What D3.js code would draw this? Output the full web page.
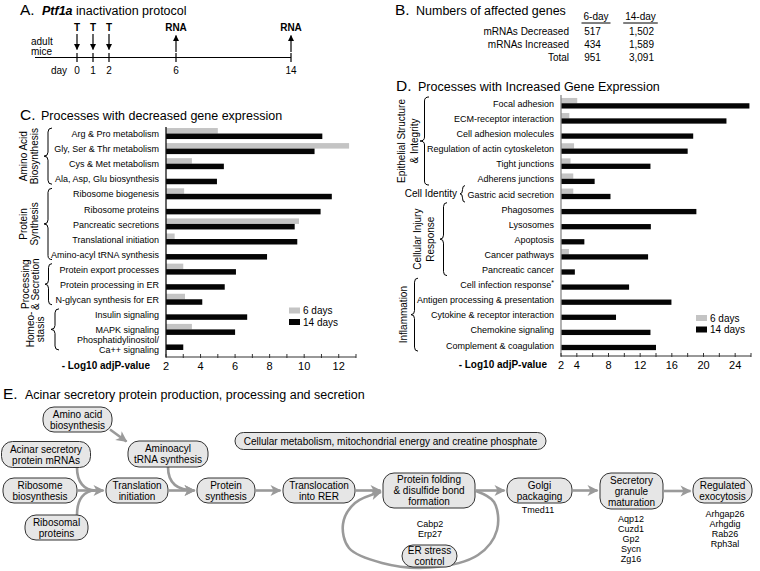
<!DOCTYPE html>
<html><head><meta charset="utf-8">
<script src="https://cdn.jsdelivr.net/npm/d3@7"></script>
<style>
body{margin:0;background:#fff}
svg{display:block;font-family:"Liberation Sans",Arial,Helvetica,sans-serif}
</style>
</head><body>
<svg id="chart" width="760" height="571"></svg>
<script>
// ---------- DATA ----------
// Panel A
const protocolDays = [0, 1, 2, 6, 14];
const treatmentDays = [0, 1, 2];
const rnaDays = [6, 14];
// Panel B
const tableRows = ["mRNAs Decreased", "mRNAs Increased", "Total"];
const tableCols = ["6-day", "14-day"];
const day6Counts = ["517", "434", "951"];
const day14Counts = ["1,502", "1,589", "3,091"];
// Panel C
const decCategories = ["Arg & Pro metabolism", "Gly, Ser & Thr metabolism", "Cys & Met metabolism",
  "Ala, Asp, Glu biosynthesis", "Ribosome biogenesis", "Ribosome proteins", "Pancreatic secretions",
  "Translational initiation", "Amino-acyl tRNA synthesis", "Protein export processes",
  "Protein processing in ER", "N-glycan synthesis for ER", "Insulin signaling", "MAPK signaling",
  "Phosphatidylinositol/\nCa++ signaling"];
const dec6days = [5.0, 12.6, 3.5, null, 3.05, null, 9.7, 2.5, null, 3.0, null, 3.1, null, 3.5, null];
const dec14days = [11.05, 10.6, 5.35, 4.95, 11.6, 10.95, 9.45, 9.6, 7.85, 6.05, 5.4, 4.1, 6.7, 6.0, 3.0];
const decTickLabels = [2, 4, 6, 8, 10, 12];
const decTickMarks = [2, 3, 4, 5, 6, 7, 8, 9, 10, 11, 12, 13];
const decGroups = [
  {lines: ["Amino Acid", "Biosynthesis"], first: 0, last: 3},
  {lines: ["Protein", "Synthesis"], first: 4, last: 8},
  {lines: ["Processing", "& Secretion"], first: 9, last: 11},
  {lines: ["Homeo-", "stasis"], first: 12, last: 14}
];
// Panel D
const incCategories = ["Focal adhesion", "ECM-receptor interaction", "Cell adhesion molecules",
  "Regulation of actin cytoskeleton", "Tight junctions", "Adherens junctions", "Gastric acid secretion",
  "Phagosomes", "Lysosomes", "Apoptosis", "Cancer pathways", "Pancreatic cancer",
  "Cell infection response*", "Antigen processing & presentation", "Cytokine & receptor interaction",
  "Chemokine signaling", "Complement & coagulation"];
const inc6days = [4.05, 3.05, null, 3.65, 3.2, 3.55, 3.55, null, null, null, 3.0, null, null, null, null, null, null];
const inc14days = [25.8, 22.9, 18.7, 18.0, 13.3, 6.25, 8.25, 19.1, 13.35, 4.95, 13.0, 3.75, 10.6, 15.95, 8.95, 13.3, 14.0];
const incTickLabels = [2, 4, 8, 12, 16, 20, 24];
const incTickMarks = [2, 4, 6, 8, 10, 12, 14, 16, 18, 20, 22, 24, 26];
const incGroups = [
  {lines: ["Epithelial Structure", "& Integrity"], first: 0, last: 5},
  {lines: ["Cell Identity"], first: 6, last: 6},
  {lines: ["Cellular Injury", "Response"], first: 7, last: 11},
  {lines: ["Inflammation"], first: 12, last: 16}
];
const seriesNames = ["6 days", "14 days"];
// Panel E
const flowNodes = [
  {id: "amino", lines: ["Amino acid", "biosynthesis"]},
  {id: "acinar", lines: ["Acinar secretory", "protein mRNAs"]},
  {id: "aminoacyl", lines: ["Aminoacyl", "tRNA synthesis"]},
  {id: "metab", lines: ["Cellular metabolism, mitochondrial energy and creatine phosphate"]},
  {id: "ribo", lines: ["Ribosome", "biosynthesis"]},
  {id: "transl", lines: ["Translation", "initiation"]},
  {id: "psyn", lines: ["Protein", "synthesis"]},
  {id: "rer", lines: ["Translocation", "into RER"]},
  {id: "riboprot", lines: ["Ribosomal", "proteins"]},
  {id: "fold", lines: ["Protein folding", "& disulfide bond", "formation"]},
  {id: "golgi", lines: ["Golgi", "packaging"]},
  {id: "secr", lines: ["Secretory", "granule", "maturation"]},
  {id: "exo", lines: ["Regulated", "exocytosis"]},
  {id: "er", lines: ["ER stress", "control"]}
];
const chainOrder = ["transl", "psyn", "rer", "fold", "golgi", "secr", "exo"];
const geneLists = [
  {node: "er", genes: ["Cabp2", "Erp27"]},
  {node: "golgi", genes: ["Tmed11"]},
  {node: "secr", genes: ["Aqp12", "Cuzd1", "Gp2", "Sycn", "Zg16"]},
  {node: "exo", genes: ["Arhgap26", "Arhgdig", "Rab26", "Rph3al"]}
];

// ---------- LAYOUT ----------
const nodeLayout = {
  amino: [77.5, 419.5, 69, 25], acinar: [46, 454.5, 89, 26], aminoacyl: [168, 454, 80, 26],
  metab: [390.5, 441, 311, 17], ribo: [40, 490.5, 74, 25], transl: [137, 490.5, 62, 25],
  psyn: [226, 490.5, 58, 25], rer: [319, 490.5, 72, 25], riboprot: [56.5, 527.5, 63, 25],
  fold: [429, 490.5, 92, 35], golgi: [539.5, 490.5, 65, 25], secr: [631.5, 491, 63, 36],
  exo: [722.5, 490.5, 59, 25], er: [429.5, 556, 55, 22]
};
const geneLayout = {er: [430, 526.5], golgi: [538, 513], secr: [631, 521.5], exo: [725, 516.5]};

const GREY = "#c4c4c4", BLACK = "#050505";
const svg = d3.select("#chart");

// markers
const defs = svg.append("defs");
defs.append("marker").attr("id", "garrow").attr("viewBox", "-11 -6 13 12")
  .attr("refX", 0).attr("refY", 0).attr("markerWidth", 13).attr("markerHeight", 12)
  .attr("markerUnits", "userSpaceOnUse").attr("orient", "auto")
  .append("path").attr("d", "M-10,-5.5 L1,0 L-10,5.5 L-7,0 Z").attr("fill", "#9a9a9a");
defs.append("marker").attr("id", "karrow").attr("viewBox", "-6 -4 7 8")
  .attr("refX", 0).attr("refY", 0).attr("markerWidth", 7).attr("markerHeight", 8)
  .attr("markerUnits", "userSpaceOnUse").attr("orient", "auto")
  .append("path").attr("d", "M-5.5,-3 L0.5,0 L-5.5,3 Z").attr("fill", "#000");

function panelTitle(letter, lx, tx, y, parts) {
  svg.append("text").attr("x", lx).attr("y", y).attr("font-size", 15.5).text(letter);
  const t = svg.append("text").attr("x", tx).attr("y", y).attr("font-size", 12.5);
  parts.forEach(p => {
    const s = t.append("tspan").text(p.t);
    if (p.b) s.attr("font-weight", "bold");
    if (p.i) s.attr("font-style", "italic");
  });
}

// ---------- PANEL A ----------
panelTitle("A.", 20, 42, 14.5, [{t: "Ptf1a", b: true, i: true}, {t: " inactivation protocol"}]);
const dayX = d3.scaleLinear().domain([0, 2, 6, 14]).range([77, 109, 176, 291]);
const gA = svg.append("g").attr("font-size", 10);
gA.append("line").attr("x1", 35).attr("x2", dayX(14)).attr("y1", 57.5).attr("y2", 57.5)
  .attr("stroke", "#000").attr("stroke-width", 1.2);
gA.selectAll(".tk").data(protocolDays).join("line")
  .attr("x1", d => dayX(d)).attr("x2", d => dayX(d)).attr("y1", 53).attr("y2", 62)
  .attr("stroke", "#000").attr("stroke-width", 1.2);
gA.selectAll(".dl").data(protocolDays).join("text")
  .attr("x", d => dayX(d)).attr("y", 74).attr("text-anchor", "middle").text(d => d);
gA.append("text").attr("x", 67).attr("y", 74).attr("text-anchor", "end").text("day");
gA.append("text").attr("x", 31).attr("y", 45).text("adult");
gA.append("text").attr("x", 31).attr("y", 54.5).text("mice");
gA.selectAll(".tl").data(treatmentDays).join("text")
  .attr("x", d => dayX(d)).attr("y", 31).attr("text-anchor", "middle")
  .attr("font-weight", "bold").text("T");
gA.selectAll(".ta").data(treatmentDays).join("line")
  .attr("x1", d => dayX(d)).attr("x2", d => dayX(d)).attr("y1", 34).attr("y2", 49.5)
  .attr("stroke", "#000").attr("stroke-width", 1.2).attr("marker-end", "url(#karrow)");
gA.selectAll(".rl").data(rnaDays).join("text")
  .attr("x", d => dayX(d)).attr("y", 31).attr("text-anchor", "middle")
  .attr("font-weight", "bold").text("RNA");
gA.selectAll(".ra").data(rnaDays).join("line")
  .attr("x1", d => dayX(d)).attr("x2", d => dayX(d)).attr("y1", 52).attr("y2", 35.5)
  .attr("stroke", "#000").attr("stroke-width", 1.2).attr("marker-end", "url(#karrow)");

// ---------- PANEL B ----------
panelTitle("B.", 395, 416, 14.5, [{t: "Numbers of affected genes"}]);
const gB = svg.append("g").attr("font-size", 10);
const colCenters = [596, 640.5];
tableCols.forEach((c, i) => {
  const t = gB.append("text").attr("x", colCenters[i]).attr("y", 20).attr("text-anchor", "middle").text(c);
  const w = t.node().getComputedTextLength();
  gB.append("line").attr("x1", colCenters[i] - w / 2 - 2).attr("x2", colCenters[i] + w / 2 + 2)
    .attr("y1", 23).attr("y2", 23).attr("stroke", "#000").attr("stroke-width", 1);
});
const rowY = d3.scalePoint().domain(tableRows).range([35, 60.5]);
gB.selectAll(".rn").data(tableRows).join("text")
  .attr("x", 569).attr("y", d => rowY(d)).attr("text-anchor", "end").text(d => d);
gB.selectAll(".c6").data(day6Counts).join("text")
  .attr("x", 592.5).attr("y", (d, i) => rowY(tableRows[i])).attr("text-anchor", "middle").text(d => d);
gB.selectAll(".c14").data(day14Counts).join("text")
  .attr("x", 654).attr("y", (d, i) => rowY(tableRows[i])).attr("text-anchor", "end").text(d => d);

// ---------- helpers for bar panels ----------
function bracePath(xTip, xEnd, y0, y1) {
  const xm = (xTip + xEnd) / 2, ym = (y0 + y1) / 2, r = Math.min(4, (y1 - y0) / 4);
  return `M${xEnd},${y0} Q${xm},${y0} ${xm},${y0 + r} L${xm},${ym - r} Q${xm},${ym} ${xTip},${ym}` +
    ` Q${xm},${ym} ${xm},${ym + r} L${xm},${y1 - r} Q${xm},${y1} ${xEnd},${y1}`;
}

function barPanel(o) {
  const g = svg.append("g");
  const x = d3.scaleLinear().domain(o.domain).range(o.xRange);
  const y = d3.scaleBand().domain(o.cats).range(o.yRange).paddingInner(o.padI).paddingOuter(o.padI / 2);
  const sub = d3.scaleBand().domain(seriesNames).range([0, y.bandwidth()]);
  const series = [o.v6, o.v14];
  series.forEach((vals, si) => {
    g.selectAll(".b" + si).data(o.cats.map((c, i) => ({c, v: vals[i]})).filter(d => d.v != null))
      .join("rect")
      .attr("x", x(o.domain[0])).attr("y", d => y(d.c) + sub(seriesNames[si]))
      .attr("width", d => x(d.v) - x(o.domain[0])).attr("height", sub.bandwidth())
      .attr("fill", si === 0 ? GREY : BLACK);
  });
  // category labels
  const lab = g.append("g").attr("font-size", 9).attr("text-anchor", "end");
  o.cats.forEach(c => {
    const lines = c.split("\n");
    const cy = y(c) + y.bandwidth() / 2 + 0.5;
    lines.forEach((ln, li) => {
      const yy = cy + (li - (lines.length - 1) / 2) * 10.5;
      const t = lab.append("text").attr("x", o.labelX).attr("y", yy).attr("dy", "0.35em");
      if (ln.endsWith("*")) {
        t.append("tspan").text(ln.slice(0, -1));
        t.append("tspan").attr("font-size", 7).attr("dy", "-0.5em").text("*");
      } else t.text(ln);
    });
  });
  // vertical axis
  g.append("line").attr("x1", x(o.domain[0])).attr("x2", x(o.domain[0]))
    .attr("y1", o.axisTop).attr("y2", o.axisY).attr("stroke", o.vColor).attr("stroke-width", 1.3);
  // horizontal axis
  g.append("line").attr("x1", x(o.domain[0])).attr("x2", x(o.domain[1]))
    .attr("y1", o.axisY).attr("y2", o.axisY).attr("stroke", "#333").attr("stroke-width", 1.2);
  g.selectAll(".tm").data(o.tickMarks).join("line")
    .attr("x1", d => x(d)).attr("x2", d => x(d)).attr("y1", o.axisY - 3).attr("y2", o.axisY + 1)
    .attr("stroke", "#333").attr("stroke-width", 1);
  g.selectAll(".tl").data(o.tickLabels).join("text")
    .attr("x", d => x(d)).attr("y", o.axisY + 12.5).attr("text-anchor", "middle")
    .attr("font-size", 11).text(d => d);
  g.append("text").attr("x", o.axLabelX).attr("y", o.axisY + 12).attr("text-anchor", "end")
    .attr("font-size", 10).attr("font-weight", "bold").text("- Log10 adjP-value");
  // legend
  seriesNames.forEach((s, i) => {
    g.append("rect").attr("x", o.legend[0]).attr("y", o.legend[1] + i * 11.5).attr("width", 11).attr("height", 6)
      .attr("fill", i === 0 ? GREY : BLACK);
    g.append("text").attr("x", o.legend[0] + 14).attr("y", o.legend[1] + i * 11.5 + 3).attr("dy", "0.35em")
      .attr("font-size", 10).text(s);
  });
  // groups
  o.groups.forEach((gr, gi) => {
    const y0 = y(o.cats[gr.first]) - o.braces[gi][2];
    const y1 = y(o.cats[gr.last]) + y.bandwidth() + o.braces[gi][2];
    g.append("path").attr("d", bracePath(o.braces[gi][0], o.braces[gi][1], y0, y1))
      .attr("fill", "none").attr("stroke", "#000").attr("stroke-width", 1);
    const ym = (y0 + y1) / 2;
    const pos = o.groupPos[gi];
    if (pos.horizontal) {
      g.append("text").attr("x", pos.x).attr("y", ym).attr("dy", "0.35em").attr("text-anchor", "end")
        .attr("font-size", 10).text(gr.lines[0]);
    } else {
      gr.lines.forEach((ln, li) => {
        g.append("text").attr("transform", `translate(${pos.xs[li]},${ym}) rotate(-90)`)
          .attr("text-anchor", "middle").attr("dy", "0.35em").attr("font-size", 10).text(ln);
      });
    }
  });
}

// ---------- PANEL C ----------
panelTitle("C.", 20, 41, 120, [{t: "Processes with decreased gene expression"}]);
barPanel({
  cats: decCategories, v6: dec6days, v14: dec14days, domain: [2, 13], xRange: [166, 356],
  yRange: [126, 352], padI: 0.27, labelX: 159, axisTop: 127, axisY: 357, vColor: "#111",
  tickMarks: decTickMarks, tickLabels: decTickLabels, axLabelX: 150, legend: [289, 307.5],
  groups: decGroups,
  braces: [[44, 52, 0], [44, 52, 0], [45, 52, 0], [51, 59, 0]],
  groupPos: [{xs: [23, 34]}, {xs: [23, 34]}, {xs: [25, 35]}, {xs: [30, 40.5]}]
});

// ---------- PANEL D ----------
panelTitle("D.", 396, 418, 91, [{t: "Processes with Increased Gene Expression"}]);
barPanel({
  cats: incCategories, v6: inc6days, v14: inc14days, domain: [2, 26], xRange: [561, 751],
  yRange: [95.7, 352.4], padI: 0.3, labelX: 554, axisTop: 95, axisY: 356, vColor: "#888",
  tickMarks: incTickMarks, tickLabels: incTickLabels, axLabelX: 547, legend: [696, 315],
  groups: incGroups,
  braces: [[420, 429, 1], [460, 465, 3], [440, 447, 1], [411, 418, 1]],
  groupPos: [{xs: [401, 414]}, {horizontal: true, x: 457}, {xs: [417, 430]}, {xs: [403]}]
});

// ---------- PANEL E ----------
panelTitle("E.", 3, 25, 399, [{t: "Acinar secretory protein production, processing and secretion"}]);
const gE = svg.append("g");
const AR = {stroke: "#9a9a9a", w: 2.6};
function arrow(d, head = true) {
  const p = gE.append("path").attr("d", d).attr("fill", "none").attr("stroke", AR.stroke)
    .attr("stroke-width", AR.w);
  if (head) p.attr("marker-end", "url(#garrow)");
}
const L = id => nodeLayout[id];
// chain arrows
for (let i = 0; i < chainOrder.length - 1; i++) {
  const a = L(chainOrder[i]), b = L(chainOrder[i + 1]);
  arrow(`M${a[0] + a[2] / 2 + 1},${a[1]} L${b[0] - b[2] / 2 - 2.5},${a[1]}`);
}
// converging inputs to translation initiation
const tr = L("transl"), tIn = tr[0] - tr[2] / 2 - 2.5;
arrow(`M77,${L("acinar")[1] + L("acinar")[3] / 2} C77,482 84,${tr[1]} ${tIn - 8},${tr[1]}`, false);
arrow(`M77,${L("riboprot")[1] - L("riboprot")[3] / 2} C77,499 84,${tr[1]} ${tIn - 8},${tr[1]}`, false);
arrow(`M${L("ribo")[0] + L("ribo")[2] / 2 + 1},${tr[1]} L${tIn},${tr[1]}`);
// amino acid -> aminoacyl
arrow(`M110,429.5 L126.5,441.5`);
// aminoacyl -> protein synthesis
const ps = L("psyn");
arrow(`M168,${L("aminoacyl")[1] + L("aminoacyl")[3] / 2} C168,482 176,${ps[1]} ${ps[0] - ps[2] / 2 - 2.5},${ps[1]}`);
// ER stress loop
const loopPts = [[476, 491], [494, 502], [497, 530], [478, 555], [430, 567.5], [382, 563], [349, 548],
  [343, 524], [355, 503], [381, 492]];
gE.append("path").attr("d", d3.line().curve(d3.curveCatmullRom.alpha(0.5))(loopPts))
  .attr("fill", "none").attr("stroke", AR.stroke).attr("stroke-width", AR.w)
  .attr("marker-end", "url(#garrow)");
// nodes
flowNodes.forEach(n => {
  const [cx, cy, w, h] = nodeLayout[n.id];
  gE.append("rect").attr("x", cx - w / 2).attr("y", cy - h / 2).attr("width", w).attr("height", h)
    .attr("rx", Math.min(11, h / 2)).attr("ry", Math.min(11, h / 2))
    .attr("fill", "#e6e6e6").attr("stroke", "#333").attr("stroke-width", 1);
  n.lines.forEach((ln, i) => {
    gE.append("text").attr("x", cx).attr("y", cy + (i - (n.lines.length - 1) / 2) * 11)
      .attr("dy", "0.35em").attr("text-anchor", "middle").attr("font-size", 10).text(ln);
  });
});
// gene lists
geneLists.forEach(gl => {
  const [gx, gy] = geneLayout[gl.node];
  gl.genes.forEach((gname, i) => {
    gE.append("text").attr("x", gx).attr("y", gy + i * 10.2).attr("text-anchor", "middle")
      .attr("font-size", 9).text(gname);
  });
});
</script>
</body></html>
